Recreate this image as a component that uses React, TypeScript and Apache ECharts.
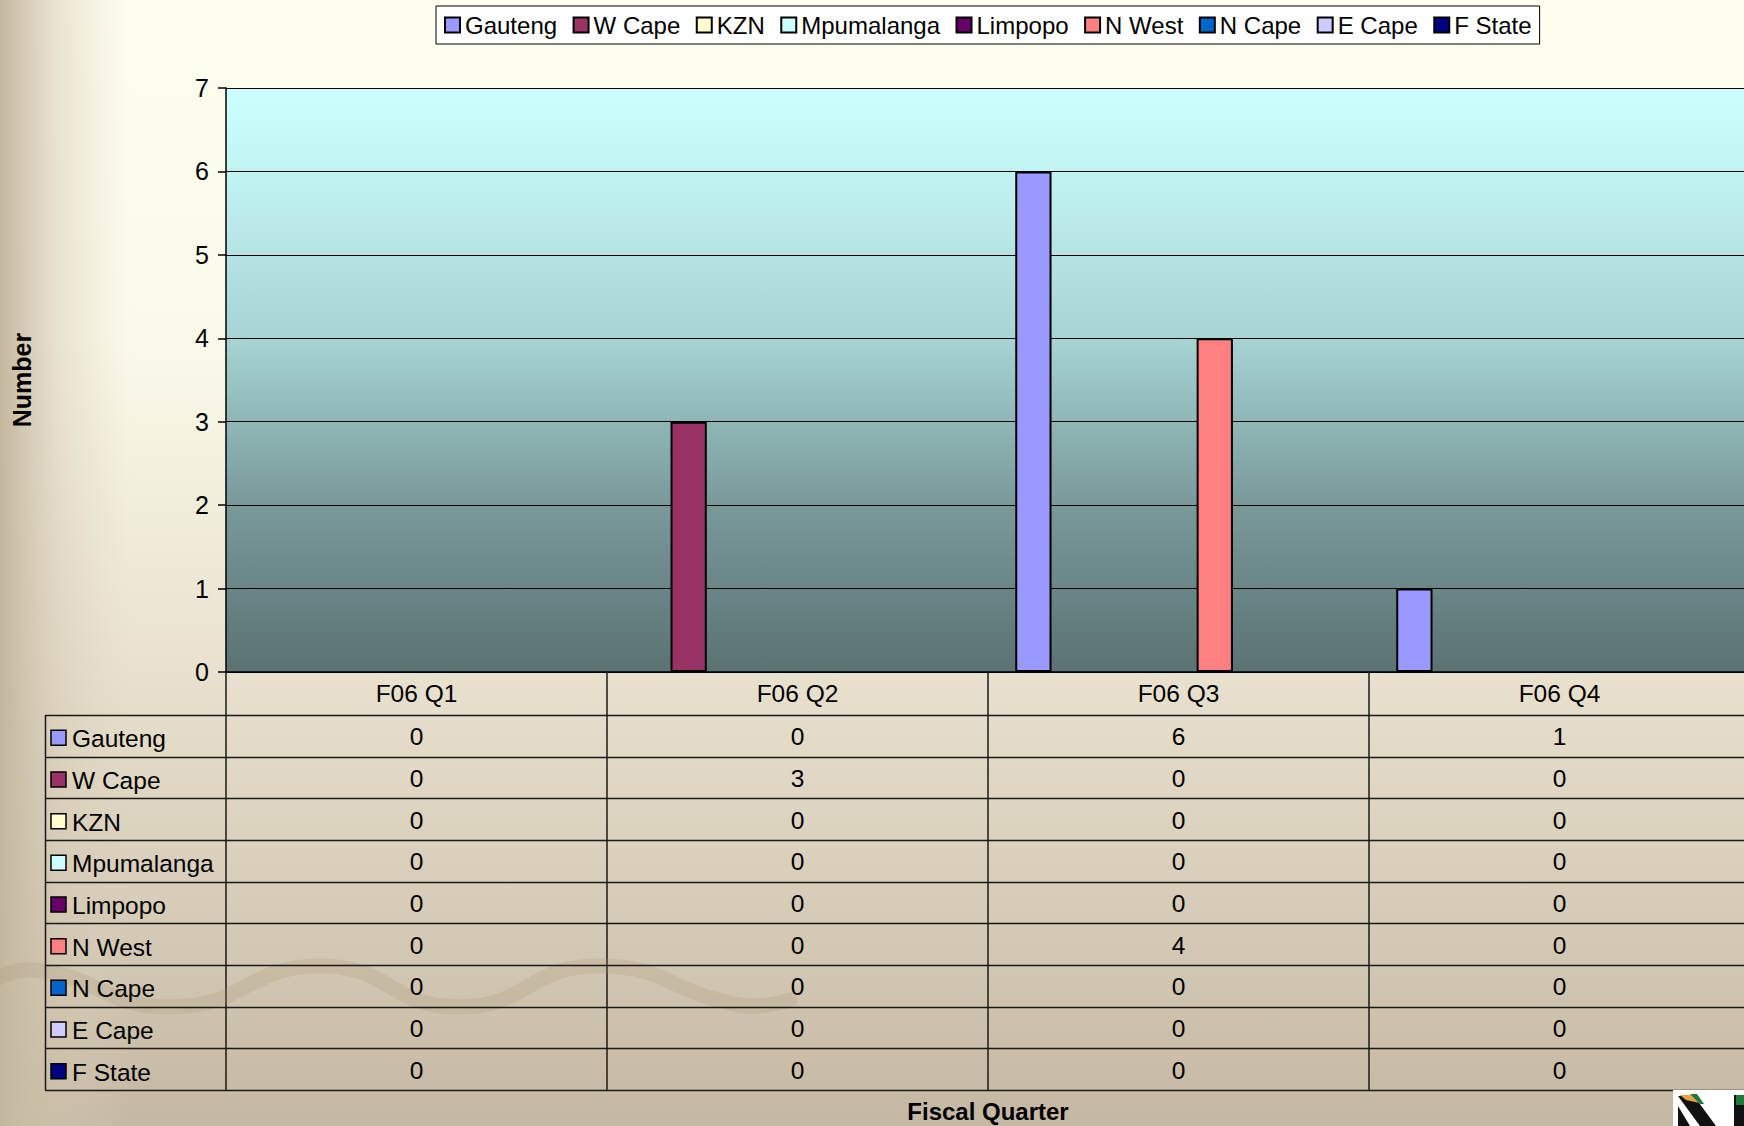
import React, { useEffect, useRef } from 'react';
import * as echarts from 'echarts';

const categories = ['F06 Q1', 'F06 Q2', 'F06 Q3', 'F06 Q4'];
const seriesNames = ['Gauteng', 'W Cape', 'KZN', 'Mpumalanga', 'Limpopo', 'N West', 'N Cape', 'E Cape', 'F State'];
const seriesColors = ['#9999FF', '#993366', '#FFFFCC', '#CCFFFF', '#660066', '#FF8080', '#0066CC', '#CCCCFF', '#000080'];
const gauteng = [0, 0, 6, 1];
const wCape = [0, 3, 0, 0];
const kzn = [0, 0, 0, 0];
const mpumalanga = [0, 0, 0, 0];
const limpopo = [0, 0, 0, 0];
const nWest = [0, 0, 4, 0];
const nCape = [0, 0, 0, 0];
const eCape = [0, 0, 0, 0];
const fState = [0, 0, 0, 0];
const seriesValues = [gauteng, wCape, kzn, mpumalanga, limpopo, nWest, nCape, eCape, fState];
const yMin = 0;
const yMax = 7;
const yInterval = 1;
const yAxisTitle = 'Number';
const xAxisTitle = 'Fiscal Quarter';

const FONT = '"Liberation Sans", Arial, sans-serif';

export default function App() {
  const ref = useRef<HTMLDivElement>(null);
  useEffect(() => {
    if (!ref.current) return;
    const chart = echarts.init(ref.current, null, { renderer: 'svg' });
    const CW = 1760; // canvas is a bit wider than the window; plot runs off the right edge
    const H = 1126;
    const gridLeft = 226;
    const gridTop = 88;
    const plotRight = 1750;
    const axisY = 672;
    const tableLeft = 45;
    const headerBottom = 715;
    const rowH = 41.67;
    const tableBottom = headerBottom + seriesNames.length * rowH;
    const catW = (plotRight - gridLeft) / categories.length;

    const graphics: any[] = [];
    graphics.push({
      type: 'rect', z: 0, silent: true,
      shape: { x: 0, y: 0, width: 130, height: H },
      style: {
        fill: new echarts.graphic.LinearGradient(0, 0, 1, 0, [
          { offset: 0, color: 'rgba(196,182,158,1)' },
          { offset: 0.45, color: 'rgba(210,198,176,0.45)' },
          { offset: 1, color: 'rgba(220,210,190,0)' },
        ]),
      },
    });
    graphics.push({
      type: 'polyline', z: 1, silent: true,
      shape: {
        points: [[-20, 990], [34, 970], [172, 1007], [321, 966], [459, 1007], [597, 966], [740, 1005], [790, 1000]],
        smooth: 0.5,
      },
      style: { stroke: 'rgba(165,145,115,0.2)', lineWidth: 15, fill: null, lineCap: 'round' },
    });
    for (let i = 0; i <= seriesNames.length; i++) {
      const y = Math.round(headerBottom + i * rowH) + 0.5;
      graphics.push({
        type: 'line', z: 5, silent: true,
        shape: { x1: tableLeft, y1: y, x2: CW, y2: y },
        style: { stroke: '#1a1a1a', lineWidth: 1.5 },
      });
    }
    graphics.push({
      type: 'line', z: 5, silent: true,
      shape: { x1: tableLeft + 0.5, y1: headerBottom, x2: tableLeft + 0.5, y2: tableBottom },
      style: { stroke: '#1a1a1a', lineWidth: 1.5 },
    });
    seriesNames.forEach((name, i) => {
      const cy = headerBottom + (i + 0.5) * rowH + 2;
      graphics.push({
        type: 'rect', z: 6, silent: true,
        shape: { x: 51, y: cy - 7.5, width: 15, height: 15 },
        style: { fill: seriesColors[i], stroke: '#000', lineWidth: 1.5 },
      });
      graphics.push({
        type: 'text', z: 6, silent: true,
        style: { text: name, x: 72, y: cy + 1, fontSize: 24.5, fontFamily: FONT, fill: '#000', verticalAlign: 'middle', align: 'left' },
      });
      seriesValues[i].forEach((v, j) => {
        graphics.push({
          type: 'text', z: 6, silent: true,
          style: {
            text: String(v), x: gridLeft + (j + 0.5) * catW, y: cy - 1,
            fontSize: 24.5, fontFamily: FONT, fill: '#000', verticalAlign: 'middle', align: 'center',
          },
        });
      });
    });
    graphics.push({
      type: 'text', z: 6, silent: true, x: 22, y: 380, rotation: Math.PI / 2,
      style: { text: yAxisTitle, fontSize: 25, fontWeight: 'bold', fontFamily: FONT, fill: '#000', align: 'center', verticalAlign: 'middle' },
    });
    graphics.push({
      type: 'text', z: 6, silent: true,
      style: { text: xAxisTitle, x: (gridLeft + plotRight) / 2, y: 1111, fontSize: 24, fontWeight: 'bold', fontFamily: FONT, fill: '#000', align: 'center', verticalAlign: 'middle' },
    });
    graphics.push({ type: 'rect', z: 6, silent: true, shape: { x: 1673, y: 1090, width: 71, height: 36 }, style: { fill: '#ffffff' } });
    graphics.push({ type: 'polygon', z: 7, silent: true, shape: { points: [[1678, 1096], [1694, 1096], [1716, 1126], [1700, 1126]] }, style: { fill: '#111' } });
    graphics.push({ type: 'polygon', z: 7, silent: true, shape: { points: [[1678, 1126], [1678, 1106], [1690, 1126]] }, style: { fill: '#111' } });
    graphics.push({ type: 'polygon', z: 8, silent: true, shape: { points: [[1680, 1095], [1694, 1095], [1700, 1103], [1686, 1100]] }, style: { fill: '#E8A040' } });
    graphics.push({ type: 'polygon', z: 8, silent: true, shape: { points: [[1690, 1094], [1697, 1094], [1704, 1104], [1700, 1104]] }, style: { fill: '#1E7A3A' } });
    graphics.push({ type: 'rect', z: 7, silent: true, shape: { x: 1734, y: 1095, width: 10, height: 31 }, style: { fill: '#111' } });
    graphics.push({ type: 'rect', z: 8, silent: true, shape: { x: 1736, y: 1095, width: 8, height: 10 }, style: { fill: '#1E7A3A' } });

    const option: any = {
      animation: false,
      backgroundColor: new echarts.graphic.LinearGradient(0, 0, 0, 1, [
        { offset: 0, color: '#FEFEEF' },
        { offset: 0.3, color: '#FBFAEA' },
        { offset: 0.6, color: '#E8E1CE' },
        { offset: 1, color: '#C5B8A2' },
      ]),
      textStyle: { fontFamily: FONT },
      legend: {
        left: 436,
        top: 6,
        icon: 'rect',
        itemWidth: 15,
        itemHeight: 15,
        itemGap: 15.5,
        padding: [7, 8, 7, 8],
        backgroundColor: '#ffffff',
        borderColor: '#000',
        borderWidth: 1,
        textStyle: { fontSize: 24, color: '#000', fontFamily: FONT },
        data: seriesNames,
      },
      grid: {
        left: gridLeft,
        top: gridTop,
        right: CW - plotRight,
        bottom: H - axisY,
        show: true,
        borderWidth: 0,
        backgroundColor: new echarts.graphic.LinearGradient(0, 0, 0, 1, [
          { offset: 0, color: '#CCFFFF' },
          { offset: 0.15, color: '#C2F3F3' },
          { offset: 0.43, color: '#A6D3D3' },
          { offset: 0.71, color: '#7A9A9A' },
          { offset: 1, color: '#5A7272' },
        ]),
      },
      xAxis: {
        type: 'category',
        data: categories,
        boundaryGap: true,
        axisLine: { show: true, lineStyle: { color: '#000', width: 1.5 } },
        axisTick: { show: true, alignWithLabel: false, length: tableBottom - axisY, lineStyle: { color: '#1a1a1a', width: 1.5 } },
        axisLabel: { fontSize: 24.5, color: '#000', margin: 9, fontFamily: FONT },
        splitLine: { show: false },
      },
      yAxis: {
        type: 'value',
        min: yMin,
        max: yMax,
        interval: yInterval,
        axisLine: { show: true, lineStyle: { color: '#000', width: 1.5 } },
        axisTick: { show: true, length: 8, lineStyle: { color: '#000', width: 1.5 } },
        axisLabel: { fontSize: 25, color: '#000', margin: 17, fontFamily: FONT },
        splitLine: { show: true, lineStyle: { color: '#000', width: 1.2 } },
      },
      series: seriesNames.map((name, i) => ({
        name,
        type: 'bar',
        barGap: '0%',
        barCategoryGap: '14.3%',
        data: seriesValues[i].map((v) => (v === 0 ? '-' : v)),
        itemStyle: { color: seriesColors[i], borderColor: '#000', borderWidth: 2 },
      })),
      graphic: { elements: graphics },
    };
    chart.setOption(option);
    return () => chart.dispose();
  }, []);
  return <div ref={ref} style={{ position: 'fixed', left: 0, top: 0, width: 1760, height: 1126 }} />;
}
